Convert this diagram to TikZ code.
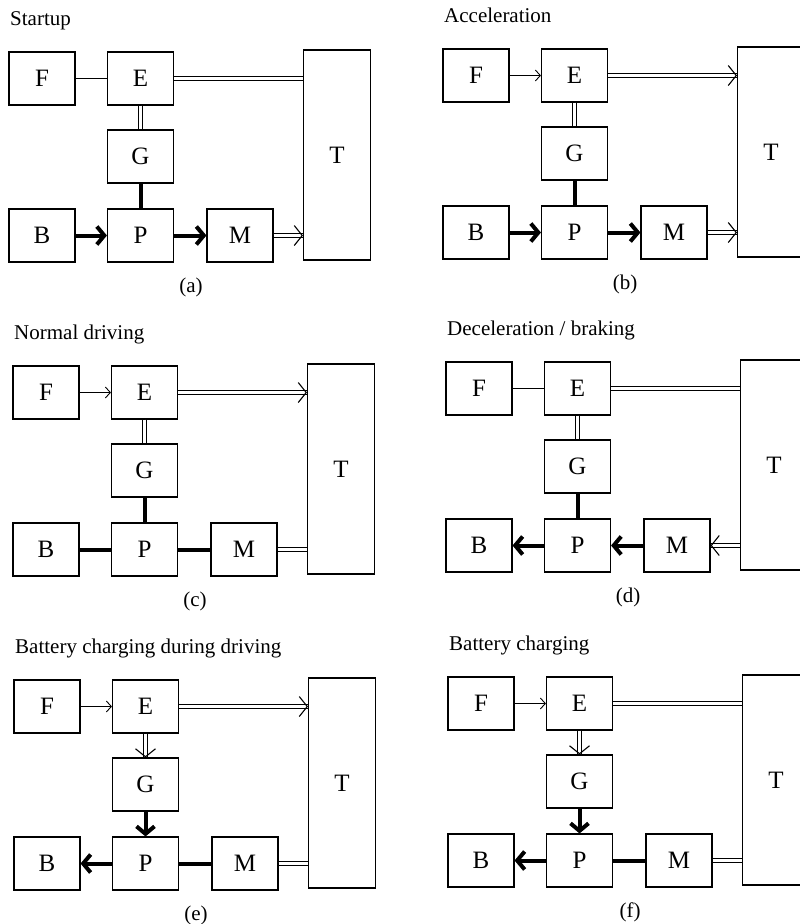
\documentclass[tikz,border=0pt]{standalone}
\usepackage{fontspec}
\setmainfont{Liberation Serif}
\usetikzlibrary{arrows.meta,decorations.markings}
\tikzset{
  box/.style={draw, line width=1.1pt, minimum width=66pt, minimum height=53pt, inner sep=0pt, font=\fontsize{25}{25}\selectfont},
  tbox/.style={draw, line width=1.1pt, minimum width=67pt, minimum height=210pt, inner sep=0pt, font=\fontsize{25}{25}\selectfont},
  ttl/.style={anchor=base west, inner sep=0pt, font=\fontsize{21}{21}\selectfont},
  lbl/.style={inner sep=0pt, font=\fontsize{21}{21}\selectfont},
  thin/.style={line width=0.9pt},
  thinarr/.style={thin, -{Straight Barb[length=5pt,width=11pt]}},
  dbl/.style={double, double distance=3.8pt, line width=1pt},
  dblarr/.style={dbl, postaction={decorate, decoration={markings,
      mark=at position 1 with {\arrow[line width=1.1pt]{Straight Barb[length=8pt,width=20pt]}}}}},
  thk/.style={line width=4pt},
  thkarr/.style={thk, -{Straight Barb[length=7.5pt,width=18pt]}},
}
\newcommand{\hevboxes}[2]{%
  \node[box] (F) at (33,26.5) {F};
  \node[box] (E) at (131.5,26.5) {E};
  \node[box] (G) at (131.5,104.5) {G};
  \node[box] (B) at (33,183.5) {B};
  \node[box] (P) at (131.5,183.5) {P};
  \node[box] (M) at (231,183.5) {M};
  \node[tbox] (T) at (328,103) {T};
  \node[ttl] (title) at (1,-27) {#1};
  \node[lbl] (cap) at (182,235) {#2};
}
\begin{document}
\begin{tikzpicture}[x=1pt,y=-1pt]
\useasboundingbox (0,0) rectangle (800,924);
\clip (0,0) rectangle (800,924);
% (a) Startup
\begin{scope}[shift={(9,52)}, name prefix=a-]
  \hevboxes{Startup}{(a)}
  \draw[thin] (F) -- (E);
  \draw[dbl] (E.east) -- (E.east -| T.west);
  \draw[dbl] (E) -- (G);
  \draw[thk] (G) -- (P);
  \draw[thkarr] (B) -- (P);
  \draw[thkarr] (P) -- (M);
  \draw[dblarr] (M.east) -- (M.east -| T.west);
\end{scope}
% (b) Acceleration
\begin{scope}[shift={(443,49)}, name prefix=b-]
  \hevboxes{Acceleration}{(b)}
  \draw[thinarr] (F) -- (E);
  \draw[dblarr] (E.east) -- (E.east -| T.west);
  \draw[dbl] (E) -- (G);
  \draw[thk] (G) -- (P);
  \draw[thkarr] (B) -- (P);
  \draw[thkarr] (P) -- (M);
  \draw[dblarr] (M.east) -- (M.east -| T.west);
\end{scope}
% (c) Normal driving
\begin{scope}[shift={(13,366)}, name prefix=c-]
  \hevboxes{Normal driving}{(c)}
  \draw[thinarr] (F) -- (E);
  \draw[dblarr] (E.east) -- (E.east -| T.west);
  \draw[dbl] (E) -- (G);
  \draw[thk] (G) -- (P);
  \draw[thk] (B) -- (P);
  \draw[thk] (P) -- (M);
  \draw[dbl] (M.east) -- (M.east -| T.west);
\end{scope}
% (d) Deceleration / braking
\begin{scope}[shift={(446,362)}, name prefix=d-]
  \hevboxes{Deceleration / braking}{(d)}
  \draw[thin] (F) -- (E);
  \draw[dbl] (E.east) -- (E.east -| T.west);
  \draw[dbl] (E) -- (G);
  \draw[thk] (G) -- (P);
  \draw[thkarr] (P) -- (B);
  \draw[thkarr] (M) -- (P);
  \draw[dblarr] (M.east -| T.west) -- (M.east);
\end{scope}
% (e) Battery charging during driving
\begin{scope}[shift={(14,680)}, name prefix=e-]
  \hevboxes{Battery charging during driving}{(e)}
  \draw[thinarr] (F) -- (E);
  \draw[dblarr] (E.east) -- (E.east -| T.west);
  \draw[dblarr] (E) -- (G);
  \draw[thkarr] (G) -- (P);
  \draw[thkarr] (P) -- (B);
  \draw[thk] (P) -- (M);
  \draw[dbl] (M.east) -- (M.east -| T.west);
\end{scope}
% (f) Battery charging
\begin{scope}[shift={(448,677)}, name prefix=f-]
  \hevboxes{Battery charging}{(f)}
  \draw[thinarr] (F) -- (E);
  \draw[dbl] (E.east) -- (E.east -| T.west);
  \draw[dblarr] (E) -- (G);
  \draw[thkarr] (G) -- (P);
  \draw[thkarr] (P) -- (B);
  \draw[thk] (P) -- (M);
  \draw[dbl] (M.east) -- (M.east -| T.west);
\end{scope}
\end{tikzpicture}
\end{document}
